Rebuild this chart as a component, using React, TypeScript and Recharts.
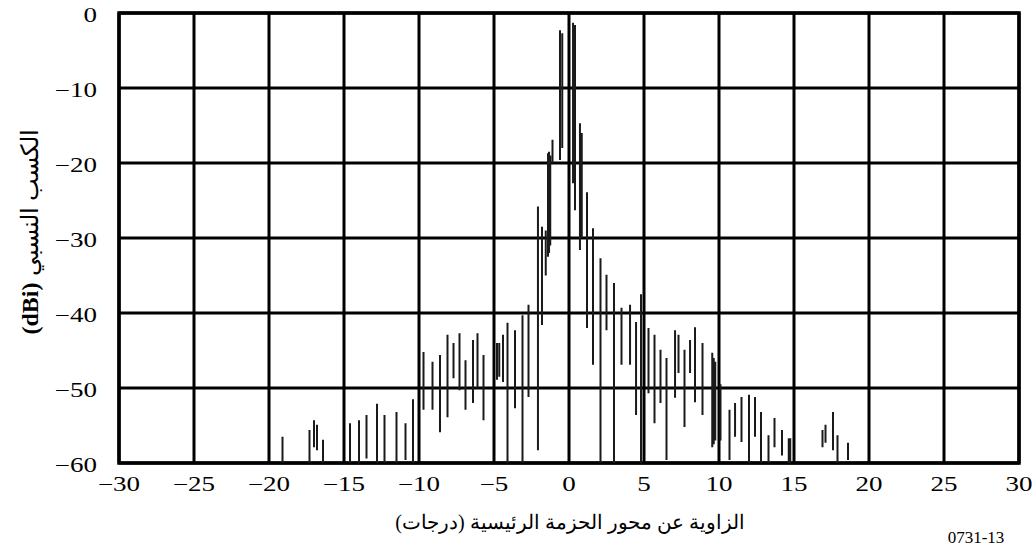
import React from "react";
import {
  ComposedChart,
  Line,
  XAxis,
  YAxis,
  CartesianGrid,
  ReferenceArea,
  Label,
} from "recharts";

// Measured sidelobe spikes: angle (degrees) with the low and high gain (dBi) of each stroke
const spikeAngle = [
  -19.1, -17.3, -17.0, -16.8, -16.4, -14.6, -14.0, -13.5, -12.8, -12.3, -11.5, -10.9, -10.4,
  -9.7, -9.1, -8.6, -8.1, -7.7, -7.3, -6.9, -6.4, -6.1, -5.7,
  -4.8, -4.65, -4.4, -4.1, -3.6, -3.1, -2.7, -2.07, -1.8, -1.55, -1.4, -1.33, -1.25, -1.1,
  -0.6, -0.45, 0.27, 0.4, 0.73, 0.85, 1.2, 1.6, 2.1, 2.5, 3.0, 3.5, 4.07, 4.47, 4.8,
  5.3, 5.7, 6.1, 6.5, 7.07, 7.3, 7.7, 8.07, 8.4, 8.9, 9.55, 9.65, 9.75, 10.1,
  10.7, 11.07, 11.5, 12.0, 12.4, 12.8, 13.3, 13.7, 14.2, 14.65, 14.75,
  16.9, 17.1, 17.6, 17.9, 18.6,
];
const spikeLow = [
  -60, -60, -57.9, -58.3, -60, -60, -60, -59.4, -60, -60, -60, -59.6, -60,
  -52.9, -52.9, -55.9, -53.9, -48.7, -50.3, -52.9, -52, -50, -54.3,
  -48.9, -48.5, -49.2, -60, -52.7, -60, -51.2, -58.3, -41.6, -35, -32.5, -32, -31, -20,
  -19.6, -18, -22.7, -26.3, -31.6, -30, -42, -46.9, -60, -42.3, -60, -46.9, -46.9, -53.6, -60,
  -50.7, -54.7, -52, -59.6, -51.3, -48, -55.2, -48, -51.9, -53.6, -57.9, -57.5, -57, -57,
  -59.6, -56.5, -57.2, -60, -56.5, -60, -60, -57.9, -59, -60, -60,
  -57.9, -57.3, -58.3, -60, -59.6,
];
const spikeHigh = [
  -56.5, -55.6, -54.3, -54.9, -56.9, -54.7, -54.3, -53.6, -52.1, -53.6, -53.2, -54.7, -51.5,
  -45.2, -46.5, -45.6, -42.9, -44, -42.7, -46.3, -43.6, -42.7, -45.6,
  -44, -44, -42.9, -41.3, -42.3, -40.3, -38.9, -25.8, -28.5, -29, -18.7, -18.5, -19, -16.9,
  -2.3, -2.7, -1.3, -1.6, -14.7, -16, -23.9, -28.7, -32.7, -34.9, -36, -39.3, -38.9, -41.2, -37.5,
  -42, -42.9, -44.9, -46, -42.3, -42.9, -44.9, -43.6, -41.9, -44, -45.3, -46, -46.5, -49.5,
  -52.9, -52, -51.2, -50.9, -51.2, -53.2, -56.3, -54, -55.6, -56.7, -56.7,
  -55.6, -54.9, -53.2, -56.3, -57.3,
];

const xTicks = [-30, -25, -20, -15, -10, -5, 0, 5, 10, 15, 20, 25, 30];
const yTicks = [-60, -50, -40, -30, -20, -10, 0];

const xTitle = "الزاوية عن محور الحزمة الرئيسية (درجات)";
const yTitleArabic = "الكسب النسبي";
const yTitleUnit = "(dBi)";
const figureCode = "0731-13";

const serif = "Liberation Serif, DejaVu Serif, serif";

const fmt = (v: number) => (v < 0 ? `\u2212${Math.abs(v)}` : `${v}`);

// Each spike becomes a vertical segment; a null point breaks the line between spikes
const traceData = spikeAngle.flatMap((a, i) => [
  { angle: a, gain: spikeLow[i] },
  { angle: a, gain: spikeHigh[i] },
  { angle: a, gain: null as number | null },
]);

// Tick labels in a wide serif face
const XTick = (props: any) => {
  const { x, y, payload } = props;
  return (
    <g transform={`translate(${x},${y})`}>
      <text
        transform="scale(1.35,1)"
        textAnchor="middle"
        dy="0.71em"
        fontSize={20}
        fontFamily={serif}
        fill="#000"
      >
        {fmt(payload.value)}
      </text>
    </g>
  );
};

const YTick = (props: any) => {
  const { x, y, payload } = props;
  return (
    <g transform={`translate(${x},${y})`}>
      <text
        transform="scale(1.35,1)"
        textAnchor="end"
        dy="0.45em"
        fontSize={20}
        fontFamily={serif}
        fill="#000"
      >
        {fmt(payload.value)}
      </text>
    </g>
  );
};

export default function App() {
  return (
    <div
      style={{
        position: "absolute",
        left: 0,
        top: 0,
        width: 1036,
        height: 550,
        background: "#fff",
        fontFamily: serif,
      }}
    >
      <ComposedChart
        width={1036}
        height={550}
        data={traceData}
        margin={{ top: 13, right: 17, bottom: 0, left: 0 }}
      >
        <CartesianGrid stroke="#000" strokeWidth={3} />
        <XAxis
          dataKey="angle"
          type="number"
          domain={[-30, 30]}
          ticks={xTicks}
          interval={0}
          height={87}
          axisLine={false}
          tickLine={false}
          tickSize={6}
          tickMargin={8}
          tick={<XTick />}
          allowDataOverflow
        >
          <Label
            content={() => (
              <g>
                <text
                  x={570}
                  y={529}
                  textAnchor="middle"
                  fontSize={20}
                  fontFamily={serif}
                  fill="#000"
                >
                  {xTitle}
                </text>
                <text
                  x={976}
                  y={543}
                  textAnchor="middle"
                  fontSize={17}
                  fontFamily={serif}
                  fill="#000"
                >
                  {figureCode}
                </text>
              </g>
            )}
          />
        </XAxis>
        <YAxis
          type="number"
          domain={[-60, 0]}
          ticks={yTicks}
          interval={0}
          width={119}
          axisLine={false}
          tickLine={false}
          tickSize={6}
          tickMargin={16}
          tick={<YTick />}
          allowDataOverflow
        >
          <Label
            content={() => (
              <text
                transform="translate(38,232) rotate(-90)"
                textAnchor="middle"
                fontSize={24}
                fontFamily={serif}
                fill="#000"
              >
                <tspan fontWeight="bold">{yTitleUnit}</tspan>
                <tspan> {yTitleArabic}</tspan>
              </text>
            )}
          />
        </YAxis>
        <ReferenceArea
          x1={-30}
          x2={30}
          y1={-60}
          y2={0}
          fill="none"
          stroke="#000"
          strokeWidth={3.5}
          ifOverflow="visible"
        />
        <Line
          dataKey="gain"
          stroke="#1a1a1a"
          strokeWidth={2}
          dot={false}
          activeDot={false}
          connectNulls={false}
          isAnimationActive={false}
        />
      </ComposedChart>
    </div>
  );
}
